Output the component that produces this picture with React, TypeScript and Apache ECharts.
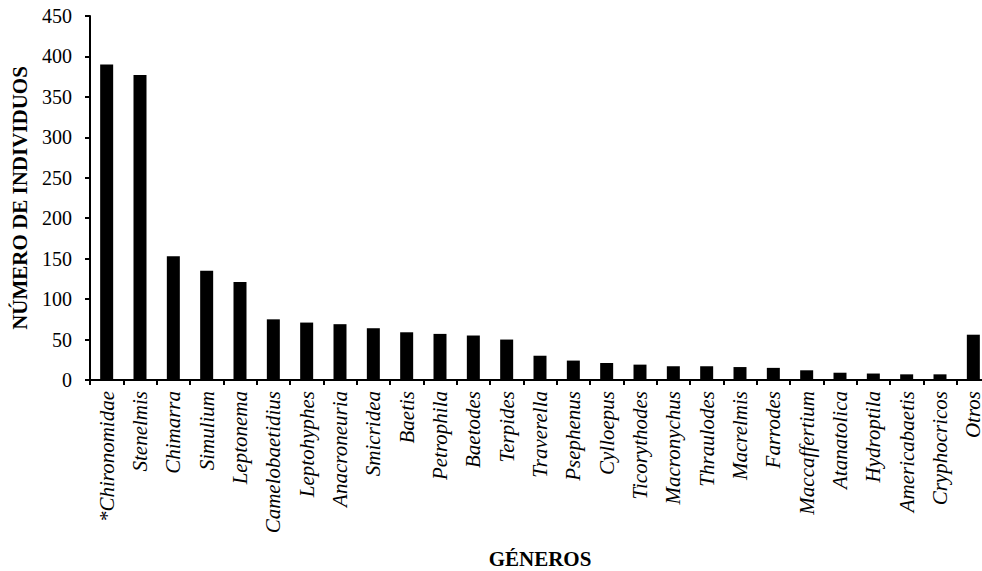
import React, { useEffect, useRef } from "react";
import * as echarts from "echarts";

// Genera of aquatic macroinvertebrates and number of individuals collected
const generos: string[] = [
  "*Chironomidae", "Stenelmis", "Chimarra", "Simulium", "Leptonema",
  "Camelobaetidius", "Leptohyphes", "Anacroneuria", "Smicridea", "Baetis",
  "Petrophila", "Baetodes", "Terpides", "Traverella", "Psephenus",
  "Cylloepus", "Ticorythodes", "Macronychus", "Thraulodes", "Macrelmis",
  "Farrodes", "Maccaffertium", "Atanatolica", "Hydroptila", "Americabaetis",
  "Cryphocricos", "Otros",
];

const individuos: number[] = [
  390, 377, 153, 135, 121,
  75, 71, 69, 64, 59,
  57, 55, 50, 30, 24,
  21, 19, 17, 17, 16,
  15, 12, 9, 8, 7,
  7, 56,
];

const yTicks: number[] = [0, 50, 100, 150, 200, 250, 300, 350, 400, 450];

const FONT = "'Liberation Serif', 'Times New Roman', serif";

export default function App() {
  const ref = useRef<HTMLDivElement>(null);

  useEffect(() => {
    if (!ref.current) return;
    const chart = echarts.init(ref.current, undefined, { renderer: "svg" });
    chart.setOption({
      animation: false,
      backgroundColor: "#ffffff",
      grid: {
        left: 90,
        top: 16,
        width: 900,
        height: 364,
        containLabel: false,
        outerBoundsMode: "none",
      },
      xAxis: {
        type: "category",
        data: generos,
        name: "GÉNEROS",
        nameLocation: "middle",
        nameGap: 168,
        nameTextStyle: { fontFamily: FONT, fontWeight: "bold", fontSize: 21, color: "#000" },
        axisLine: { lineStyle: { color: "#000", width: 2 } },
        axisTick: { show: true, alignWithLabel: false, length: 5, lineStyle: { color: "#000", width: 2 } },
        axisLabel: {
          interval: 0,
          rotate: 90,
          margin: 11,
          fontFamily: FONT,
          fontStyle: "italic",
          fontSize: 21,
          color: "#000",
        },
      },
      yAxis: {
        type: "value",
        min: yTicks[0],
        max: yTicks[yTicks.length - 1],
        interval: 50,
        name: "NÚMERO DE INDIVIDUOS",
        nameLocation: "middle",
        nameGap: 60,
        nameTextStyle: { fontFamily: FONT, fontWeight: "bold", fontSize: 21, color: "#000" },
        splitLine: { show: false },
        axisLine: { show: true, lineStyle: { color: "#000", width: 2 } },
        axisTick: { show: true, length: 5, lineStyle: { color: "#000", width: 2 } },
        axisLabel: { fontFamily: FONT, fontSize: 20, color: "#000", margin: 18 },
      },
      series: [
        {
          type: "bar",
          data: individuos,
          barWidth: 13,
          itemStyle: { color: "#000" },
        },
      ],
    });
    return () => chart.dispose();
  }, []);

  return (
    <div style={{ position: "fixed", left: 0, top: 0, width: 982, height: 571, overflow: "hidden", background: "#fff" }}>
      <div ref={ref} style={{ width: 1000, height: 571 }} />
    </div>
  );
}
